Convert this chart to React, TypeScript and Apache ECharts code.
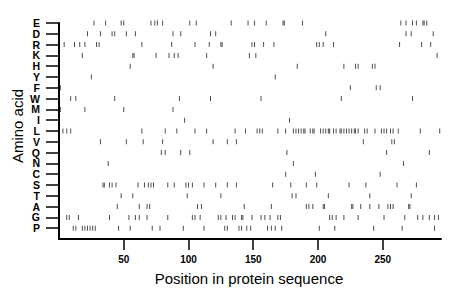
import React, { useEffect, useRef } from "react";
import * as echarts from "echarts";

// Amino acids from bottom (row 1) to top (row 20)
const aminoAcids = ["P", "G", "A", "T", "S", "C", "N", "Q", "V", "L", "I", "M", "W", "F", "Y", "H", "K", "R", "D", "E"];

const posE = [27, 36, 48, 50, 71, 74, 76, 80, 101, 106, 133, 146, 151, 160, 173, 174, 188, 264, 268, 273, 276, 281, 282, 284];
const posD = [22, 32, 41, 43, 52, 59, 88, 94, 117, 121, 206, 268, 272, 289];
const posR = [4, 12, 16, 20, 29, 31, 64, 87, 105, 116, 125, 126, 149, 151, 158, 166, 199, 201, 204, 212, 263, 280, 287];
const posK = [18, 57, 58, 75, 85, 89, 92, 114, 147, 152, 292];
const posH = [55, 119, 184, 220, 229, 231, 242, 244];
const posY = [25, 167];
const posF = [1, 225, 245, 248];
const posW = [9, 13, 43, 93, 117, 156, 218, 273];
const posM = [1, 20, 50, 88];
const posI = [97, 178];
const posL = [3, 6, 9, 64, 82, 91, 105, 114, 136, 144, 153, 155, 157, 169, 175, 181, 183, 185, 187, 189, 190, 194, 196, 197, 202, 204, 206, 208, 209, 212, 214, 217, 218, 220, 222, 224, 226, 228, 229, 231, 236, 238, 244, 249, 251, 253, 256, 258, 262, 279, 294];
const posV = [32, 52, 65, 80, 119, 130, 137, 235, 257, 259];
const posQ = [79, 82, 94, 101, 176, 253, 286];
const posN = [38, 181, 266];
const posC = [175, 198, 248];
const posS = [34, 35, 39, 41, 44, 61, 66, 69, 71, 73, 84, 89, 98, 100, 103, 112, 121, 130, 137, 165, 179, 191, 199, 224, 237, 261, 276];
const posT = [48, 57, 99, 125, 180, 183, 208, 240, 272];
const posA = [45, 62, 68, 70, 107, 110, 143, 164, 191, 193, 196, 204, 205, 226, 227, 233, 240, 247, 254, 256, 258, 270, 271];
const posG = [6, 8, 15, 39, 54, 59, 62, 68, 84, 103, 105, 109, 123, 125, 129, 134, 136, 141, 142, 149, 156, 159, 163, 169, 171, 209, 211, 214, 220, 231, 251, 267, 277, 281, 286, 290, 293];
const posP = [11, 13, 18, 20, 22, 24, 26, 28, 46, 55, 72, 78, 96, 112, 128, 130, 139, 141, 145, 148, 161, 164, 167, 172, 201, 213, 243, 265, 290];

const positionsByAcid: Record<string, number[]> = {
  P: posP, G: posG, A: posA, T: posT, S: posS, C: posC, N: posN, Q: posQ, V: posV, L: posL,
  I: posI, M: posM, W: posW, F: posF, Y: posY, H: posH, K: posK, R: posR, D: posD, E: posE,
};

const xTicks = [50, 100, 150, 200, 250];
const xTitle = "Position in protein sequence";
const yTitle = "Amino acid";

export default function App() {
  const ref = useRef<HTMLDivElement>(null);

  useEffect(() => {
    if (!ref.current) return;
    const chart = echarts.init(ref.current, null, { renderer: "svg" });
    const data: number[][] = [];
    aminoAcids.forEach((aa, idx) => {
      positionsByAcid[aa].forEach((p) => data.push([p, idx + 1]));
    });
    const yRows = aminoAcids.map((_, i) => i + 1);
    const font = "'Liberation Sans', Arial, Helvetica, sans-serif";

    chart.setOption({
      animation: false,
      backgroundColor: "#ffffff",
      grid: { left: 59, right: 19, top: 23, bottom: 60, containLabel: false },
      xAxis: {
        type: "value",
        min: 0,
        max: 295,
        splitLine: { show: false },
        axisLine: { show: true, onZero: false, lineStyle: { color: "#000", width: 2 } },
        axisTick: { show: true, length: 11, customValues: xTicks, lineStyle: { color: "#000", width: 1.5 } },
        axisLabel: {
          customValues: xTicks,
          margin: 15,
          color: "#000",
          fontSize: 10,
          fontWeight: "bold",
          fontFamily: font,
        },
      },
      yAxis: {
        type: "value",
        min: 0,
        max: 20,
        interval: 1,
        splitLine: { show: false },
        axisLine: { show: true, onZero: false, lineStyle: { color: "#000", width: 2 } },
        axisTick: { show: true, length: 13, customValues: yRows, lineStyle: { color: "#000", width: 1.5 } },
        axisLabel: {
          customValues: [0, ...yRows],
          showMinLabel: false,
          margin: 19,
          color: "#000",
          fontSize: 10.5,
          fontWeight: "bold",
          fontFamily: font,
          formatter: (v: number) => aminoAcids[Math.round(Number(v)) - 1] ?? "",
        },
      },
      graphic: [
        {
          type: "text",
          x: 249,
          y: 278,
          style: {
            text: xTitle,
            fontSize: 15,
            fontFamily: font,
            fill: "#000",
            textAlign: "center",
            textVerticalAlign: "middle",
          },
        },
        {
          type: "text",
          x: 17.5,
          y: 126,
          rotation: Math.PI / 2,
          style: {
            text: yTitle,
            fontSize: 15,
            fontFamily: font,
            fill: "#000",
            textAlign: "center",
            textVerticalAlign: "middle",
          },
        },
      ],
      series: [
        {
          type: "scatter",
          data,
          symbol: "rect",
          symbolSize: [1, 5],
          itemStyle: { color: "#222" },
          silent: true,
        },
      ],
    });
    return () => chart.dispose();
  }, []);

  return (
    <div
      ref={ref}
      style={{ position: "absolute", left: 0, top: 0, width: 460, height: 299, background: "#fff" }}
    />
  );
}
